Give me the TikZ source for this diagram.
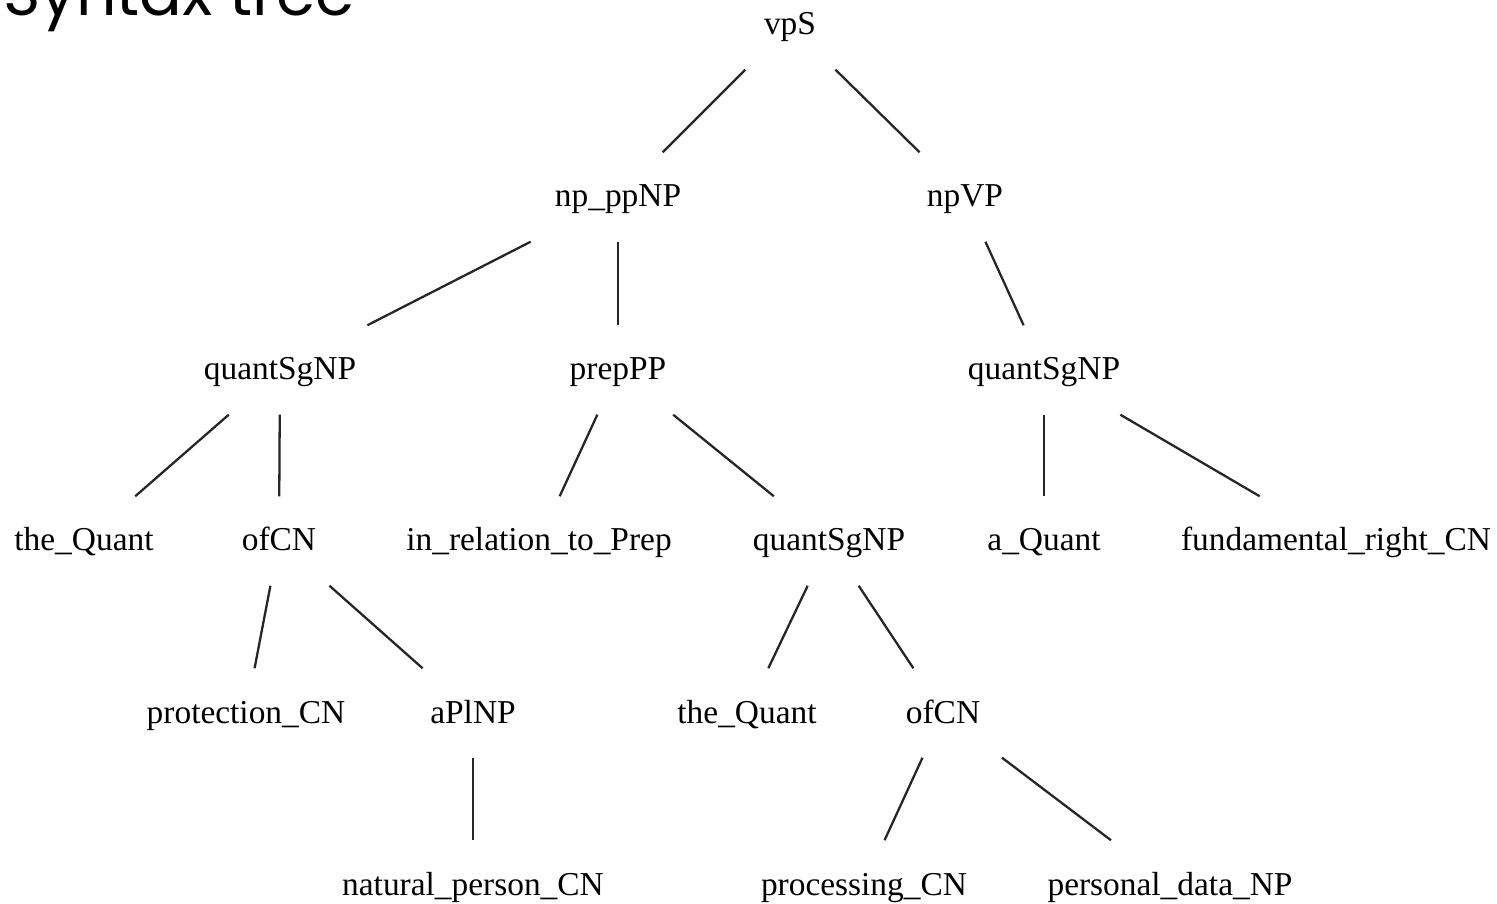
\documentclass[tikz,border=0pt]{standalone}
\usepackage{fontspec}
\setmainfont{Liberation Serif}
\newfontfamily\titlefont{Poppins}
\usetikzlibrary{calc}

\begin{document}
\begin{tikzpicture}[x=0.01cm, y=-0.01cm,
    cat/.style={minimum width=2.2cm, minimum height=0.88cm, inner sep=0pt,
        text height=0.25cm, text depth=0.05cm, font=\fontsize{9.5}{11}\selectfont},
    branch/.style={line width=0.65pt, black!85}]
        %
        \useasboundingbox (0,0) rectangle (1497,904);
        \clip (0,0) rectangle (1497,904);

        \node[anchor=base west, font=\titlefont\fontsize{18}{21}\selectfont] (title) at (-9,16) {Syntax tree};

        %
        \node[cat] (vpS) at (790,25) {vpS};

        \node[cat] (npp) at (618,197) {np\_ppNP};
        \node[cat] (npVP) at (965,197) {npVP};

        \node[cat] (qL) at (280,370) {quantSgNP};
        \node[cat] (prepPP) at (618,370) {prepPP};
        \node[cat] (qR) at (1044,370) {quantSgNP};

        \node[cat] (theL) at (84,541) {the\_Quant};
        \node[cat] (ofL) at (279,541) {ofCN};
        \node[cat] (inrel) at (539,541) {in\_relation\_to\_Prep};
        \node[cat] (qM) at (829,541) {quantSgNP};
        \node[cat] (aQ) at (1044,541) {a\_Quant};
        \node[cat] (fund) at (1336,541) {fundamental\_right\_CN};

        \node[cat] (prot) at (246,713) {protection\_CN};
        \node[cat] (aPl) at (473,713) {aPlNP};
        \node[cat] (theM) at (747,713) {the\_Quant};
        \node[cat] (ofM) at (943,713) {ofCN};

        \node[cat] (natp) at (473,885) {natural\_person\_CN};
        \node[cat] (proc) at (864,885) {processing\_CN};
        \node[cat] (pers) at (1170,885) {personal\_data\_NP};

        %
        \draw[branch] (vpS) -- (npp);
        \draw[branch] (vpS) -- (npVP);
        \draw[branch] (npp) -- (qL);
        \draw[branch] (npp) -- (prepPP);
        \draw[branch] (npVP) -- (qR);
        \draw[branch] (qL) -- (theL);
        \draw[branch] (qL) -- (ofL);
        \draw[branch] (prepPP) -- (inrel);
        \draw[branch] (prepPP) -- (qM);
        \draw[branch] (qR) -- (aQ);
        \draw[branch] (qR) -- (fund);
        \draw[branch] (ofL) -- (prot);
        \draw[branch] (ofL) -- (aPl);
        \draw[branch] (qM) -- (theM);
        \draw[branch] (qM) -- (ofM);
        \draw[branch] (aPl) -- (natp);
        \draw[branch] (ofM) -- (proc);
        \draw[branch] (ofM) -- (pers);
    \end{tikzpicture}
\end{document}
